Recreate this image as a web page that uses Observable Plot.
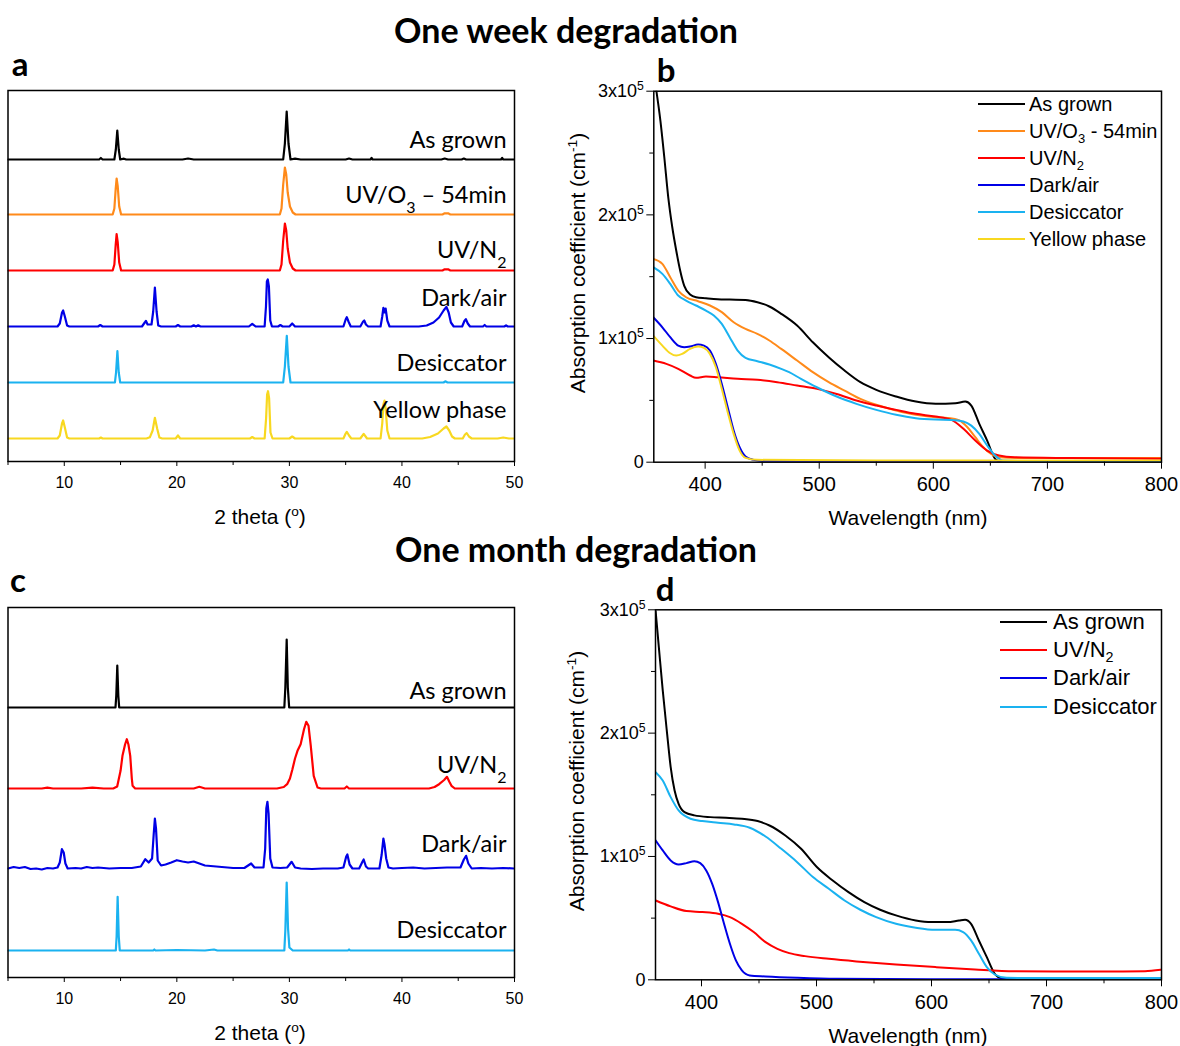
<!DOCTYPE html>
<html><head><meta charset="utf-8">
<script src="https://cdn.jsdelivr.net/npm/d3@7"></script>
<script src="https://cdn.jsdelivr.net/npm/@observablehq/plot@0.6"></script>
<style>
body{margin:0;background:#fff;}
#fig{position:relative;width:1180px;height:1046px;overflow:hidden;background:#fff;font-family:"Liberation Sans",Arial,sans-serif;color:#000}
#fig svg{position:absolute;overflow:visible}
.abs{position:absolute;white-space:nowrap;line-height:1}
.ctr{transform:translate(-50%,-50%)}
.title{font-family:Lato,"Open Sans",sans-serif;font-weight:700;font-size:34px;line-height:0.9}
.letter{font-family:Lato,"Open Sans",sans-serif;font-weight:700;font-size:33px;line-height:0.8}
.axlab{font-family:"Liberation Sans",Arial,sans-serif;font-size:21px}
.leg{font-family:"Liberation Sans",Arial,sans-serif;transform:translateY(-50%)}
sub,sup{font-size:65%;line-height:0}
</style></head><body><div id="fig"></div><script>
// ---------------- DATA ----------------
// Panel a: XRD, one week (2θ in degrees, intensity in a.u. above each trace's own baseline)
const xrdWeekNames = ["As grown", "UV/O₃ – 54min", "UV/N₂", "Dark/air", "Desiccator", "Yellow phase"];
const xrdWeekColors = ["#000000", "#ff8a1a", "#ff0000", "#0000e6", "#1ab2f0", "#f8d820"];
const xrdWeekOffsets = [302, 247, 191, 135, 79, 23];
const xrdWeekAsGrown = [[5,0],[13.1,0],[13.25,1.5],[13.4,0],[14.45,0],[14.58,10],[14.71,29],[14.84,10],[14.97,0],[15.3,0.8],[15.5,0],[20.5,0],[21,1],[21.5,0],[29.45,0],[29.6,16],[29.76,48],[29.92,16],[30.1,0],[30.5,0.8],[31,0],[35,0],[35.3,1],[35.6,0],[37.2,0],[37.3,1.5],[37.4,0],[43.5,0],[43.8,1],[44.1,0],[45.3,0],[45.5,1],[45.7,0],[48.8,0],[48.9,1.5],[49,0],[50,0]];
const xrdWeekUVO3 = [[5,0],[14.3,0],[14.45,6],[14.57,26],[14.65,36],[14.75,28],[14.88,8],[15.05,0],[29.15,0],[29.3,6],[29.45,30],[29.6,47],[29.72,40],[29.85,22],[30.05,8],[30.3,2],[30.55,0],[43.6,0],[43.8,1.2],[44.1,1.2],[44.3,0],[50,0]];
const xrdWeekUVN2 = [[5,0],[14.3,0],[14.45,6],[14.57,26],[14.65,36.3],[14.75,28],[14.88,8],[15.05,0],[29.15,0],[29.3,6],[29.45,30],[29.6,47],[29.72,40],[29.85,22],[30.05,8],[30.3,2],[30.55,0],[43.6,0],[43.8,1.2],[44.1,1.2],[44.3,0],[50,0]];
const xrdWeekDarkAir = [[5,0],[9.4,0],[9.6,3],[9.8,14],[9.9,16],[10.05,10],[10.25,1],[10.45,0],[13.0,0],[13.2,1.5],[13.4,0],[16.9,0],[17.15,4],[17.25,5.7],[17.4,2],[17.75,2],[17.9,15],[18.05,39],[18.2,15],[18.35,1],[18.6,0],[19.9,0],[20.1,1.5],[20.3,0],[21.3,0],[21.5,1.2],[21.7,0],[21.9,1.2],[22.1,0],[26.4,0],[26.7,2.7],[27.0,0],[27.8,0],[27.92,20],[28.0,45],[28.08,47],[28.18,40],[28.3,6],[28.45,0],[29.0,0],[29.2,1.5],[29.4,0],[30.0,0],[30.25,3],[30.5,0],[34.8,0],[35.0,7],[35.1,9.3],[35.25,5],[35.45,0],[36.3,0],[36.55,5],[36.65,6],[36.8,2],[37.0,0],[38.1,0],[38.25,10],[38.35,18.7],[38.45,14],[38.55,18],[38.7,6],[38.9,0],[41.5,0],[42.2,1],[42.8,4],[43.3,9],[43.7,16],[43.95,19.7],[44.15,14],[44.35,4],[44.6,0],[45.35,0],[45.55,5.5],[45.68,7.3],[45.85,3],[46.05,0],[47.2,0],[47.35,1.5],[47.5,0],[49.1,0],[49.25,1.2],[49.4,0],[50,0]];
const xrdWeekDesiccator = [[5,0],[14.5,0],[14.6,10],[14.72,31.3],[14.84,10],[14.97,0],[29.45,0],[29.6,16],[29.77,46.7],[29.92,16],[30.1,0],[43.7,0],[43.85,1.2],[44.05,0],[50,0]];
const xrdWeekYellow = [[5,0],[9.4,0],[9.6,3],[9.8,15],[9.9,18],[10.05,11],[10.25,1],[10.45,0],[13.1,0],[13.25,1],[13.4,0],[17.3,0],[17.6,1.2],[17.85,8],[18.05,20.7],[18.25,10],[18.45,1],[18.7,0],[19.9,0],[20.1,3],[20.3,0],[26.5,0],[26.7,1.5],[26.9,0],[27.8,0],[27.93,20],[28.02,44],[28.1,47.3],[28.2,40],[28.32,6],[28.5,0],[30.0,0],[30.25,2],[30.5,0],[34.8,0],[35.0,5],[35.1,6.7],[35.3,3],[35.5,0],[36.3,0],[36.6,4.7],[36.9,0],[38.1,0],[38.25,15],[38.35,34],[38.45,38],[38.55,30],[38.7,8],[38.9,0],[41.8,0],[42.5,1.5],[43.2,5],[43.7,10],[43.95,12],[44.2,8],[44.45,2],[44.7,0],[45.4,0],[45.6,4],[45.75,5.3],[45.95,2],[46.2,0],[48.5,0],[49.0,1],[49.5,0],[50,0]];
const xrdWeekSeries = [xrdWeekAsGrown, xrdWeekUVO3, xrdWeekUVN2, xrdWeekDarkAir, xrdWeekDesiccator, xrdWeekYellow];

// Panel c: XRD, one month
const xrdMonthNames = ["As grown", "UV/N₂", "Dark/air", "Desiccator"];
const xrdMonthColors = ["#000000", "#ff0000", "#0000e6", "#1ab2f0"];
const xrdMonthOffsets = [270, 189, 109, 27];
const xrdMonthAsGrown = [[5,0],[14.55,0],[14.62,12],[14.71,42],[14.8,12],[14.88,0],[29.55,0],[29.64,20],[29.76,68],[29.86,20],[29.98,0],[50,0]];
const xrdMonthUVN2 = [[5,0],[8,0],[8.5,0.8],[9,0],[11.5,0],[12.5,0.8],[13.5,0],[14.35,0],[14.7,2],[15.0,17.7],[15.17,32.7],[15.4,44],[15.56,49.3],[15.7,44],[15.86,32.7],[16.0,10],[16.07,2.7],[16.3,0],[21.5,0],[22.0,1.7],[22.5,0],[28.9,0],[29.5,1.5],[29.8,4.3],[30.05,10],[30.27,19.3],[30.5,30],[30.72,37.7],[31.0,44.3],[31.3,59.3],[31.5,66.7],[31.7,62.7],[31.9,42.7],[32.16,12.7],[32.5,1],[32.8,0],[34.9,0],[35.1,2],[35.3,0],[42.4,0],[42.9,1.5],[43.3,4.3],[43.75,8.5],[44.0,11.7],[44.2,7],[44.4,2.7],[44.7,0],[50,0]];
const xrdMonthDarkAir = [[5,0],[5.5,1.5],[6,0.5],[6.5,1.5],[7,-0.5],[7.5,0],[8,-1],[8.5,0.5],[9,0],[9.4,1],[9.6,6],[9.79,19.3],[9.95,16],[10.1,5],[10.3,0],[11,0.5],[11.5,0],[12,1.5],[12.5,0.5],[13,1],[14,0],[15,0.5],[16,0.5],[16.8,2],[17.2,9.3],[17.5,6],[17.8,10],[17.95,35],[18.05,50],[18.15,40],[18.3,8],[18.6,3],[19,4],[19.5,6],[20,8.3],[20.5,7],[21,6],[21.5,7],[22,5],[22.5,3],[23,2.5],[24,1.5],[25,0.5],[26,0.5],[26.6,5],[26.9,1],[27.7,1],[27.85,20],[27.95,60],[28.05,66.7],[28.15,55],[28.3,10],[28.5,1],[29.2,0.5],[29.8,1],[30.2,6.7],[30.5,1],[31,0],[32,-0.5],[33,0],[34.3,0],[34.8,1],[35.05,12],[35.15,14],[35.35,4],[35.6,0],[36.2,0],[36.5,7],[36.6,9],[36.8,2],[37.0,0],[38.0,0],[38.2,14],[38.35,30],[38.45,24],[38.6,10],[38.8,1],[39.2,0],[40,0.5],[41,1],[42,0],[43,0.5],[44,1],[45.2,1],[45.5,9],[45.7,12.7],[45.9,5],[46.2,0],[47,0.5],[48,0],[49,0.5],[50,0]];
const xrdMonthDesiccator = [[5,0],[14.58,0],[14.65,14],[14.74,53.7],[14.84,14],[14.93,0],[17.9,0],[18,1],[18.1,0],[20,0.5],[22.5,0],[23.3,1],[23.6,0],[29.55,0],[29.64,20],[29.76,68],[29.88,22],[30.0,3],[30.3,0],[35.2,0],[35.3,1],[35.4,0],[50,0]];
const xrdMonthSeries = [xrdMonthAsGrown, xrdMonthUVN2, xrdMonthDarkAir, xrdMonthDesiccator];
const xrdTicks = [10, 20, 30, 40, 50];
const xrdMinor = [5, 15, 25, 35, 45];

// Panel b: absorption, one week  ([wavelength nm, absorption ×10³ cm⁻¹])
const absWeekNames = ["As grown", "UV/O₃ - 54min", "UV/N₂", "Dark/air", "Desiccator", "Yellow phase"];
const absWeekColors = ["#000000", "#ff8a1a", "#ff0000", "#0000e6", "#1ab2f0", "#f8d820"];
const absWeekAsGrown = [[357.3,300],[360.8,276],[364.2,246.6],[367.7,214],[371.2,190],[374.7,171],[378.1,155],[381.6,142.8],[386.8,135.6],[392,133.4],[400.7,132.6],[411,131.8],[421.5,131.5],[435.4,131.2],[445.8,129.4],[456.3,125.9],[466.7,120],[480.6,110.5],[494.4,97],[508.3,84.9],[522.2,74.1],[536.1,64.7],[550,58.5],[567.4,53.1],[584.7,49],[602,47.2],[619.4,47.7],[628,49],[633.3,45.8],[640.3,31],[647.2,17.5],[654.2,2.7],[659.4,0.3],[700,0.2],[800,0.2]];
const absWeekUVO3 = [[354.5,164.4],[362.5,160.4],[369.4,149.6],[376.4,138.8],[383.3,133.4],[393.8,130.2],[404.2,126.7],[414.6,121.3],[425,113.2],[435.4,107.8],[445.8,103.8],[456.3,98.4],[466.7,91.6],[480.6,82.2],[494.4,72.8],[508.3,64.7],[522.2,57.9],[536.1,51.2],[550,46.4],[567.4,41.8],[584.7,38.3],[602,36.4],[612.5,35.8],[622.9,33.7],[629.9,28.3],[636.8,20.2],[643.8,12.1],[650.7,6.7],[657.6,4],[680,3.4],[750,3.3],[800,3.5]];
const absWeekUVN2 = [[354.5,82.2],[366,79.5],[376.4,75.5],[386.8,70.1],[392,68.2],[400.7,69.3],[411,68.7],[428.5,67.4],[445.8,66.6],[463.2,64.7],[480.6,62],[498,59.3],[515.3,55.2],[532.6,49.9],[550,45.8],[567.4,42.3],[584.7,39.1],[602,36.9],[615.9,34.2],[626.4,27],[636.8,17.5],[647.2,9.4],[657.6,5.4],[671.5,4],[720,3.3],[800,2.7]];
const absWeekDarkAir = [[354.5,117.2],[362.5,109.1],[369.4,101.1],[376.4,94.3],[381.6,93],[386.8,93.5],[393.8,95.1],[399,94.3],[404.2,90.3],[409.4,79.5],[414.6,63.3],[419.8,44.5],[425,25.6],[430.2,12.1],[435.4,4.6],[442.4,1.9],[452.8,0.8],[550,0.5],[700,0.5],[800,0.5]];
const absWeekDesiccator = [[354.5,157.7],[362.5,152.3],[369.4,144.2],[376.4,134.8],[383.3,130.7],[392,126.7],[400.7,122.6],[407.6,118.6],[414.6,111.8],[421.5,101.1],[428.5,90.3],[435.4,84.4],[445.8,81.7],[456.3,79],[466.7,75.5],[473.6,72.8],[484,67.4],[497.9,60.6],[515.3,53.1],[532.6,47.2],[550,42.3],[567.4,38.3],[584.7,35.6],[602,34.5],[615.9,34.2],[626.4,32.9],[633.3,29.6],[640.3,22.9],[647.2,13.5],[654.2,5.4],[661.1,1.3],[700,0.6],[800,0.5]];
const absWeekYellow = [[354.5,102.4],[362.5,94.3],[369.4,88.1],[374.7,86.2],[379.9,87.6],[386.8,91.6],[393.8,93.5],[399,92.4],[404.2,87.6],[409.4,76.8],[414.6,59.3],[419.8,40.4],[425,22.9],[430.2,9.4],[435.4,3.5],[445.8,1.9],[550,1.4],[700,1.3],[800,1.3]];
const absWeekSeries = [absWeekAsGrown, absWeekUVO3, absWeekUVN2, absWeekDarkAir, absWeekDesiccator, absWeekYellow];

// Panel d: absorption, one month
const absMonthNames = ["As grown", "UV/N₂", "Dark/air", "Desiccator"];
const absMonthColors = ["#000000", "#ff0000", "#0000e6", "#1ab2f0"];
const absMonthAsGrown = [[360.1,299],[362.9,269.8],[366.3,234.6],[369.8,202.2],[373.2,172.5],[376.6,153.5],[380.1,142.7],[385.2,136],[393.8,133.3],[407.6,131.9],[421.3,131.4],[435.1,130.6],[448.8,128.7],[459.1,125.1],[472.9,117],[486.6,106.2],[500.3,91.4],[514.1,80.5],[527.8,71.1],[541.6,63],[555.3,56.8],[569.1,52.2],[586.3,48.1],[600,46.8],[613.7,46.8],[624,48.1],[629.2,48.7],[634.4,45.4],[641.2,31.9],[648.1,18.4],[655,4.9],[660.1,1.4],[700,0.5],[775,0.8]];
const absMonthUVN2 = [[360.1,64.3],[373.2,59.5],[386.9,55.7],[400.7,54.9],[414.4,53.5],[424.7,50.8],[435.1,45.4],[445.4,38.7],[455.7,30.5],[466,25.1],[476.3,21.6],[490,19.2],[510.7,17],[534.7,14.9],[569.1,12.4],[603.4,10.3],[637.8,8.4],[672.2,7],[706.5,6.8],[758.1,6.8],[785.6,7],[799.3,8.1]];
const absMonthDarkAir = [[360.1,113],[366.3,104.9],[373.2,96.8],[380.1,93.5],[386.9,94.6],[393.8,96.2],[398.9,94.6],[404.1,88.7],[409.3,77.8],[414.4,63],[419.6,45.4],[424.7,29.2],[429.9,15.7],[435.1,7.6],[441.9,3.5],[455.7,2.7],[483.2,1.6],[517.5,0.8],[650,0.5],[800,0.5]];
const absMonthDesiccator = [[360.1,168.4],[366.3,161.6],[373.2,148.1],[380.1,137.3],[390.4,130.6],[400.7,128.7],[414.4,127.3],[428.2,126],[441.9,123.3],[455.7,116.2],[469.4,106.2],[483.2,95.4],[496.9,83.3],[510.7,73.8],[524.4,64.3],[538.1,56.8],[551.9,50.8],[569.1,45.4],[586.3,42.2],[603.4,40.5],[620.6,40.5],[627.5,38.7],[634.4,31.9],[641.2,21.1],[648.1,10.3],[655,4.3],[665.3,1.6],[700,1.4],[800,1.4]];
const absMonthSeries = [absMonthAsGrown, absMonthUVN2, absMonthDarkAir, absMonthDesiccator];
const absXTicks = [400, 500, 600, 700, 800];
const absXMinor = [450, 550, 650, 750];
const absYTicks = [0, 100000, 200000, 300000];
const absYMinor = [50000, 150000, 250000];

// ---------------- HELPERS ----------------
const fig = document.getElementById("fig");
const SUP = {"⁰":"0","¹":"1","²":"2","³":"3","⁴":"4","⁵":"5","⁶":"6","⁷":"7","⁸":"8","⁹":"9","⁻":"-"};
const SUB = {"₀":"0","₁":"1","₂":"2","₃":"3","₄":"4","₅":"5","₆":"6","₇":"7","₈":"8","₉":"9"};
function toHTML(s) {
  let out = "";
  for (const ch of s) {
    if (SUP[ch]) out += "<sup>" + SUP[ch] + "</sup>";
    else if (SUB[ch]) out += "<sub>" + SUB[ch] + "</sub>";
    else out += ch.replace("&", "&amp;").replace("<", "&lt;");
  }
  return out;
}
function fixScripts(svg) {
  svg.querySelectorAll("text").forEach(el => {
    const s = el.textContent;
    if (!/[⁰-⁹¹²³⁻₀-₉]/.test(s)) return;
    el.textContent = "";
    const runs = [];
    for (const ch of s) {
      const kind = SUP[ch] ? "sup" : SUB[ch] ? "sub" : "n";
      const c = SUP[ch] || SUB[ch] || ch;
      if (runs.length && runs[runs.length - 1].kind === kind) runs[runs.length - 1].t += c;
      else runs.push({kind, t: c});
    }
    for (const r of runs) {
      const ts = document.createElementNS("http://www.w3.org/2000/svg", "tspan");
      ts.textContent = r.t;
      if (r.kind !== "n") {
        ts.setAttribute("font-size", "68%");
        ts.setAttribute("baseline-shift", r.kind === "sup" ? "super" : "sub");
      }
      el.appendChild(ts);
    }
  });
}
function place(svg, left, top) {
  svg.style.left = left + "px";
  svg.style.top = top + "px";
  fixScripts(svg);
  fig.appendChild(svg);
}
function addText(html, x, y, cls, center = true) {
  const d = document.createElement("div");
  d.className = "abs " + cls + (center ? " ctr" : "");
  d.style.left = x + "px";
  d.style.top = y + "px";
  d.innerHTML = html;
  fig.appendChild(d);
  return d;
}
function rows(series, offsets) {
  return series.map((pts, i) => pts.map(([x, y]) => ({x, y: y + (offsets ? offsets[i] : 0)})));
}

// ---------------- XRD PANELS ----------------
function xrdPlot(series, names, colors, offsets, lifts, yMax, mt, mb, height) {
  const data = rows(series, offsets);
  const labelRows = names.map((t, i) => ({x: 50, y: offsets[i] + lifts[i], t}));
  return Plot.plot({
    width: 540, height, marginLeft: 7.5, marginRight: 26, marginTop: mt, marginBottom: mb,
    x: {domain: [5, 50], label: null},
    y: {domain: [0, yMax], axis: null},
    style: {background: "transparent", fontFamily: "Liberation Sans, Arial, sans-serif", fontSize: "16px", color: "#000"},
    marks: [
      ...data.map((d, i) => Plot.line(d, {x: "x", y: "y", stroke: colors[i], strokeWidth: 2.2, clip: true})),
      Plot.text(labelRows, {x: "x", y: "y", text: "t", textAnchor: "end", dx: -8, fill: "#000",
        fontFamily: "Lato, 'Open Sans', sans-serif", fontSize: 23.5}),
      Plot.frame({stroke: "#000", strokeWidth: 1.5}),
      Plot.axisX({ticks: xrdTicks, tickSize: 5, tickPadding: 10, label: null, tickFormat: d => String(d)}),
      Plot.axisX({ticks: xrdMinor, tickSize: 4, label: null, tickFormat: () => ""})
    ]
  });
}

// ---------------- ABSORPTION PANELS ----------------
function absPlot(series, colors, xMin, mt, mb, ml, height) {
  const data = series.map(pts => pts.map(([x, y]) => ({x, y: y * 1000})));
  return Plot.plot({
    width: 620, height, marginLeft: ml, marginRight: 19, marginTop: mt, marginBottom: mb,
    x: {domain: [xMin, 800], label: null},
    y: {domain: [0, 300000], label: null},
    style: {background: "transparent", fontFamily: "Liberation Sans, Arial, sans-serif", fontSize: "20px", color: "#000"},
    marks: [
      ...data.map((d, i) => Plot.line(d, {x: "x", y: "y", stroke: colors[i], strokeWidth: 2, curve: "monotone-x", clip: true})),
      Plot.frame({stroke: "#000", strokeWidth: 1.5}),
      Plot.axisX({ticks: absXTicks, tickSize: 7, tickPadding: 8, label: null, tickFormat: d => String(d)}),
      Plot.axisX({ticks: absXMinor, tickSize: 4, label: null, tickFormat: () => ""}),
      Plot.axisY({ticks: absYTicks, tickSize: 7, tickPadding: 3, label: null, fontSize: 18,
        tickFormat: d => d === 0 ? "0" : `${d / 100000}x10⁵`}),
      Plot.axisY({ticks: absYMinor, tickSize: 4, label: null, tickFormat: () => ""})
    ]
  });
}

function legend(names, colors, x0, y0, step, fontSize, gap) {
  names.forEach((n, i) => {
    const y = y0 + i * step;
    const line = document.createElement("div");
    line.style.cssText = `position:absolute;left:${x0}px;top:${y - 1}px;width:47px;height:2.2px;background:${colors[i]}`;
    fig.appendChild(line);
    const t = addText(toHTML(n), x0 + gap, y, "leg", false);
    t.style.fontSize = fontSize + "px";
  });
}

// Build
place(xrdPlot(xrdWeekSeries, xrdWeekNames, xrdWeekColors, xrdWeekOffsets, [19, 19, 20, 28, 19, 28], 371, 10, 79, 460), 0, 80);
place(absPlot(absWeekSeries, absWeekColors, 355, 20.7, 78.3, 93.3, 470), 560, 70);
place(xrdPlot(xrdMonthSeries, xrdMonthNames, xrdMonthColors, xrdMonthOffsets, [16, 23, 24, 20], 370, 12, 69, 451), 0, 595);
place(absPlot(absMonthSeries, absMonthColors, 360, 19.3, 66.7, 95, 456), 560, 590);

legend(absWeekNames, absWeekColors, 978, 104.3, 26.9, 20, 51);
legend(absMonthNames, absMonthColors, 1000, 621.7, 28.3, 22, 53);

// Titles & labels
addText("One week degradation", 566, 30, "title");
addText("One month degradation", 576, 549, "title");
addText("a", 20, 63, "letter");
addText("b", 666, 69, "letter");
addText("c", 18, 579, "letter");
addText("d", 665, 588, "letter");
addText("2 theta (<sup>o</sup>)", 260, 516, "axlab");
addText("2 theta (<sup>o</sup>)", 260, 1032, "axlab");
addText("Wavelength (nm)", 908, 517, "axlab");
addText("Wavelength (nm)", 908, 1035, "axlab");
const yl1 = addText("Absorption coefficient (cm<sup>-1</sup>)", 577, 263, "axlab", false);
yl1.style.transform = "translate(-50%,-50%) rotate(-90deg)";
const yl2 = addText("Absorption coefficient (cm<sup>-1</sup>)", 576, 781, "axlab", false);
yl2.style.transform = "translate(-50%,-50%) rotate(-90deg)";
</script></body></html>
